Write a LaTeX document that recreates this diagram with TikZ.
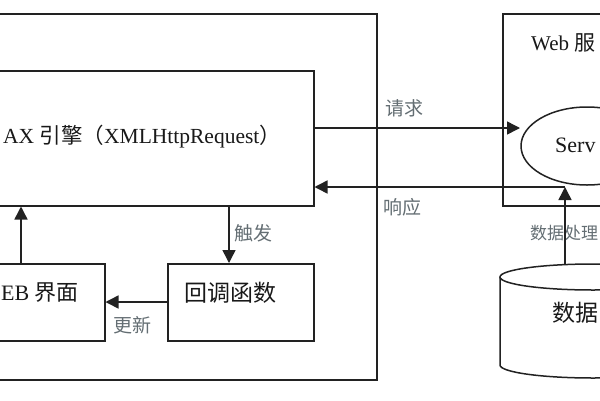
\documentclass[tikz,border=0pt]{standalone}
\usepackage{fontspec}
\setmainfont{Liberation Serif}
\newfontfamily\cjk{Noto Sans CJK SC}
\usetikzlibrary{arrows.meta,shapes.geometric}
\definecolor{linec}{RGB}{34,34,34}
\definecolor{lblc}{RGB}{100,110,115}
\begin{document}
\begin{tikzpicture}[x=1pt,y=-1pt,
  line/.style={draw=linec, line width=1.5pt},
  box/.style={line, rectangle, inner sep=0pt, anchor=north west},
  arr/.style={line, -{Triangle[length=13pt,width=13pt]}},
  lbl/.style={text=lblc, font=\cjk\fontsize{19}{19}\selectfont, inner sep=0pt},
  txt/.style={font=\fontsize{22}{22}\selectfont, inner sep=0pt, text=black!90}]
\useasboundingbox (0,0) rectangle (600,400);
\clip (0,0) rectangle (600,400);
\fill[white] (0,0) rectangle (600,400);
% boxes
\node[box, minimum width=446pt, minimum height=366pt] (browser) at (-70,13) {};
\node[box, minimum width=364pt, minimum height=135pt] (ajax) at (-51,70) {};
\node[box, minimum width=148pt, minimum height=77pt] (web) at (-44,263) {};
\node[box, minimum width=146pt, minimum height=77pt] (cb) at (167,263) {};
\node[box, minimum width=200pt, minimum height=192pt] (srvbox) at (502,13) {};
\node[line, ellipse, minimum width=132pt, minimum height=78pt, inner sep=0pt] (srv) at (587,146) {};
% database cylinder
\draw[line] (500,277) -- (500,365) arc[start angle=180, end angle=360, x radius=93pt, y radius=13pt] -- (686,277);
\draw[line] (593,277) ellipse[x radius=93pt, y radius=13pt];
\coordinate (dbtop) at (565,265);
% texts
\node[txt, anchor=west, font=\fontsize{21.5}{21.5}\selectfont] (ajaxt) at (3,137) {AX {\cjk 引擎（}XMLHttpRequest{\cjk ）}};
\node[txt, anchor=west] (webt) at (1,293) {EB {\cjk 界面}};
\node[txt, font=\cjk\fontsize{23}{23}\selectfont] (cbt) at (230,293) {回调函数};
\node[txt, anchor=west, font=\fontsize{21}{21}\selectfont] (srvt) at (531,43) {Web {\cjk 服}};
\node[txt, anchor=west] (servt) at (555,145) {Serv};
\node[txt, anchor=west, font=\cjk\fontsize{23}{23}\selectfont] (dbt) at (552,313) {数据};
% labels
\node[lbl] (lreq) at (404,108) {请求};
\node[lbl] (lres) at (402,207) {响应};
\node[lbl] (ltrig) at (253,233) {触发};
\node[lbl] (lupd) at (132,325) {更新};
\node[lbl, anchor=west, font=\cjk\fontsize{17}{17}\selectfont] (lproc) at (530,233) {数据处理};
% connectors
\coordinate (reqend) at (520,128);
\coordinate (resstart) at (565,187);
\coordinate (trig) at (229,0);
\coordinate (upx) at (21,0);
\coordinate (updy) at (0,302);
\draw[arr] (ajax.east |- reqend) -- (reqend);
\draw[arr] (resstart) -- (resstart -| ajax.east);
\draw[arr] (dbtop) -- (resstart);
\draw[arr] (ajax.south -| trig) -- (cb.north -| trig);
\draw[arr] (cb.west |- updy) -- (web.east |- updy);
\draw[arr] (web.north -| upx) -- (ajax.south -| upx);
\end{tikzpicture}
\end{document}
